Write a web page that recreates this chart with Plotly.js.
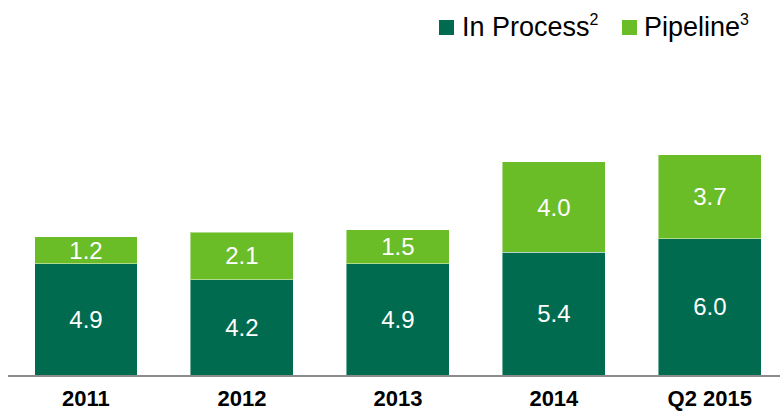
<!DOCTYPE html>
<html>
<head>
<meta charset="utf-8">
<script src="https://cdn.plot.ly/plotly-3.0.1.min.js"></script>
<style>html,body{margin:0;padding:0;background:#fff;}#chart{width:781px;height:412px;}</style>
</head>
<body>
<div id="chart"></div>
<script>
const categories = ["2011", "2012", "2013", "2014", "Q2 2015"];
const inProcess = [4.9, 4.2, 4.9, 5.4, 6.0];
const pipeline = [1.2, 2.1, 1.5, 4.0, 3.7];
const seriesNames = ["In Process", "Pipeline"];
const footnotes = ["2", "3"];
const seriesColors = ["#006B4E", "#6BBD28"];

const FONT = "Arial, 'Liberation Sans', sans-serif";

const common = {
  type: "bar",
  x: categories,
  textposition: "inside",
  insidetextanchor: "middle",
  constraintext: "none",
  textangle: 0,
  texttemplate: "%{y:.1f}",
  textfont: {family: FONT, size: 24, color: "#ffffff"},
  hoverinfo: "skip",
  showlegend: false
};

const traces = [
  Object.assign({}, common, {
    name: seriesNames[0],
    y: inProcess,
    marker: {color: seriesColors[0], line: {color: "rgba(255,255,255,0.45)", width: 1}}
  }),
  Object.assign({}, common, {
    name: seriesNames[1],
    y: pipeline,
    marker: {color: seriesColors[1], line: {color: "rgba(255,255,255,0.45)", width: 1}}
  })
];

// legend drawn as shapes + annotations (positions in paper units)
const legendSquareX = [[0.5583, 0.5777], [0.7953, 0.8148]];
const legendTextX = [0.5855, 0.8212];
const shapes = legendSquareX.map((sx, i) => ({
  type: "rect", xref: "paper", yref: "paper",
  x0: sx[0], x1: sx[1], y0: 1.0462, y1: 1.0923,
  fillcolor: seriesColors[i], line: {width: 0}
}));
const annotations = seriesNames.map((n, i) => ({
  xref: "paper", yref: "paper",
  x: legendTextX[i], y: 1.072,
  xanchor: "left", yanchor: "middle",
  showarrow: false,
  text: n + "<sup><span style=\"font-size:16px\">" + footnotes[i] + "</span></sup>",
  font: {family: FONT, size: 27, color: "#000000"}
}));

const layout = {
  width: 781,
  height: 412,
  margin: {l: 8, r: 1, t: 50, b: 37},
  paper_bgcolor: "#ffffff",
  plot_bgcolor: "#ffffff",
  barmode: "stack",
  bargap: 0.34,
  showlegend: false,
  shapes: shapes,
  annotations: annotations,
  xaxis: {
    type: "category",
    range: [-0.5, 4.45],
    showgrid: false,
    zeroline: false,
    showline: true,
    linecolor: "#8c8c8c",
    linewidth: 2,
    ticks: "",
    ticklabelstandoff: 3,
    tickfont: {family: FONT, size: 22, color: "#000000", weight: "bold"},
    fixedrange: true
  },
  yaxis: {
    range: [0, 14.32],
    visible: false,
    showgrid: false,
    zeroline: false,
    fixedrange: true
  }
};

Plotly.newPlot("chart", traces, layout, {staticPlot: true, displayModeBar: false});
</script>
</body>
</html>
